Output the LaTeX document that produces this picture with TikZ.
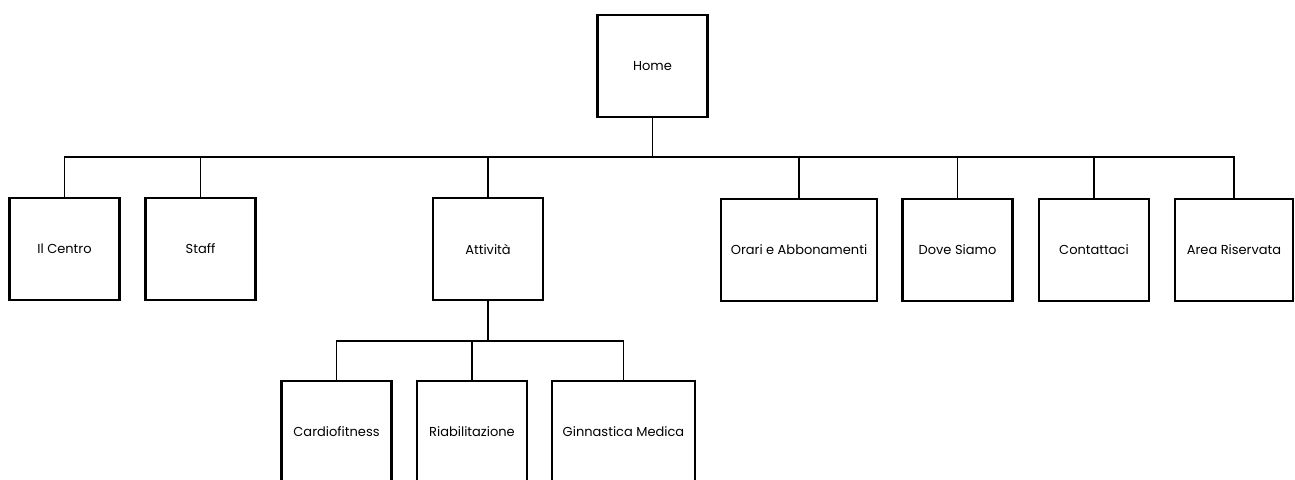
\documentclass[tikz,border=0pt]{standalone}
\usepackage{fontspec}
\setmainfont{Poppins}
\usepackage{tikz}
\usetikzlibrary{positioning}

\begin{document}
\begin{tikzpicture}[x=0.02cm,y=-0.02cm,
  page/.style={draw=black, line width=1.6pt, fill=white, minimum height=2.04cm,
    minimum width=2.2cm, inner sep=0pt, font=\fontsize{7.4}{9}\selectfont},
  link/.style={line width=1.1pt}]
% Canvas
\useasboundingbox (0,0) rectangle (1295,480);
% Bus lines
\coordinate (bus1) at (0,157);
\coordinate (bus2) at (0,341);

% Home
\node[page] (home) at (652.5,66) {Home};

% First level
\node[page] (centro) at (64.5,249) {Il Centro};
\node[page] (staff) at (200.5,249) {Staff};
\node[page] (attivita) at (488,249) {Attività};
\node[page, minimum width=3.12cm] (orari) at (799,250) {Orari e Abbonamenti};
\node[page] (dove) at (957.5,250) {Dove Siamo};
\node[page] (contatti) at (1094,250) {Contattaci};
\node[page, minimum width=2.36cm] (area) at (1234,250) {Area Riservata};

% Second level
\node[page] (cardio) at (336.5,432) {Cardiofitness};
\node[page] (riab) at (472,432) {Riabilitazione};
\node[page, minimum width=2.86cm] (ginn) at (623.5,432) {Ginnastica Medica};

% Links from Home
\foreach \n in {centro,staff,attivita,orari,dove,contatti,area}
  \draw[link] (home.south) -- (home.south |- bus1) -| (\n.north);

% Links from Attivita
\foreach \n in {cardio,riab,ginn}
  \draw[link] (attivita.south) -- (attivita.south |- bus2) -| (\n.north);
\end{tikzpicture}
\end{document}
